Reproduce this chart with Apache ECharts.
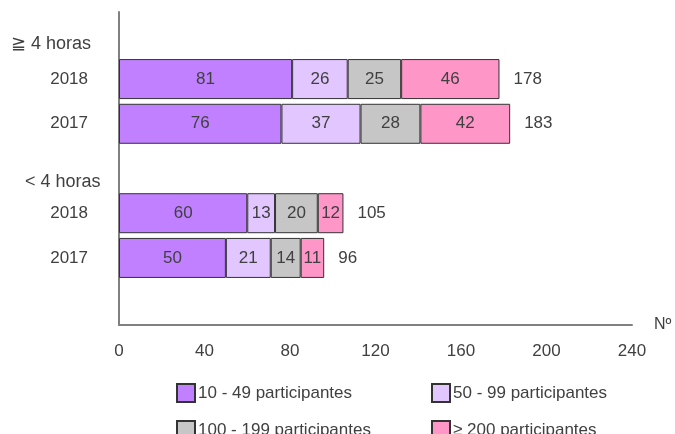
<!DOCTYPE html>
<html>
<head>
<meta charset="utf-8">
<script src="https://cdn.jsdelivr.net/npm/echarts@6/dist/echarts.min.js"></script>
<style>html,body{margin:0;padding:0;background:#fff}#c{width:675px;height:434px}</style>
</head>
<body>
<div id="c"></div>
<script>
var categories = ['', '2018', '2017', ' ', '2018 ', '2017 ', '  '];
var groupLabels = ['≧ 4 horas', '< 4 horas'];
var seriesNames = ['10 - 49 participantes', '50 - 99 participantes', '100 - 199 participantes', '≥ 200 participantes'];
var s10_49   = ['-', 81, 76, '-', 60, 50, '-'];
var s50_99   = ['-', 26, 37, '-', 13, 21, '-'];
var s100_199 = ['-', 25, 28, '-', 20, 14, '-'];
var s200     = ['-', 46, 42, '-', 12, 11, '-'];
var totals   = ['-', 178, 183, '-', 105, 96, '-'];
var xTicks = [0, 40, 80, 120, 160, 200, 240];

var FONT = "'Liberation Sans', Arial, sans-serif";
var TXT = '#404040';
var colors = ['#c080ff', '#e2c6ff', '#c6c6c6', '#ff96c8'];
var allData = [s10_49, s50_99, s100_199, s200];

var series = allData.map(function (d, i) {
  return {
    name: seriesNames[i], type: 'bar', stack: 'a', barWidth: 40, data: d,
    itemStyle: { color: colors[i], borderColor: '#333', borderWidth: 1 },
    label: { show: true, position: 'inside', color: TXT, fontSize: 17, fontFamily: FONT },
    emphasis: { disabled: true }
  };
});
series.push({
  name: 'total', type: 'bar', stack: 'a', barWidth: 40,
  data: totals.map(function (t) { return t === '-' ? '-' : 0; }),
  itemStyle: { color: 'transparent' },
  label: {
    show: true, position: 'right', distance: 14, color: TXT, fontSize: 17, fontFamily: FONT,
    formatter: function (p) { return totals[p.dataIndex]; }
  },
  emphasis: { disabled: true }
});

var legendPos = [[171, 378], [426, 378], [171, 415], [426, 415]];
var legends = seriesNames.map(function (n, i) {
  return { data: [n], left: legendPos[i][0], top: legendPos[i][1],
    itemWidth: 18, itemHeight: 18, icon: 'rect', selectedMode: false,
    textStyle: { color: TXT, fontSize: 17, fontFamily: FONT, padding: [0, 0, 0, -2] } };
});

var chart = echarts.init(document.getElementById('c'), null, { renderer: 'canvas' });
chart.setOption({
  animation: false,
  textStyle: { fontFamily: FONT },
  grid: { left: 119, right: 43, top: 12, bottom: 109, containLabel: false },
  xAxis: {
    type: 'value', min: xTicks[0], max: xTicks[xTicks.length - 1], interval: 40,
    name: 'Nº', nameLocation: 'end', nameGap: 22,
    nameTextStyle: { color: TXT, fontSize: 16, fontFamily: FONT, verticalAlign: 'middle' },
    axisLine: { show: true, lineStyle: { color: '#808080', width: 2 } },
    axisTick: { show: false },
    splitLine: { show: false },
    axisLabel: { color: TXT, fontSize: 17, fontFamily: FONT, margin: 18 }
  },
  yAxis: {
    type: 'category', data: categories, inverse: true,
    axisLine: { show: true, onZero: false, lineStyle: { color: '#808080', width: 2 } },
    axisTick: { show: false },
    axisLabel: { color: TXT, fontSize: 17, fontFamily: FONT, margin: 31,
      formatter: function (v) { return v.trim(); } }
  },
  legend: legends,
  graphic: [
    { type: 'text', left: 11, top: 35, style: { text: groupLabels[0], fill: TXT, font: '18px ' + FONT } },
    { type: 'text', left: 25, top: 173, style: { text: groupLabels[1], fill: TXT, font: '18px ' + FONT } }
  ],
  series: series
});
</script>
</body>
</html>
